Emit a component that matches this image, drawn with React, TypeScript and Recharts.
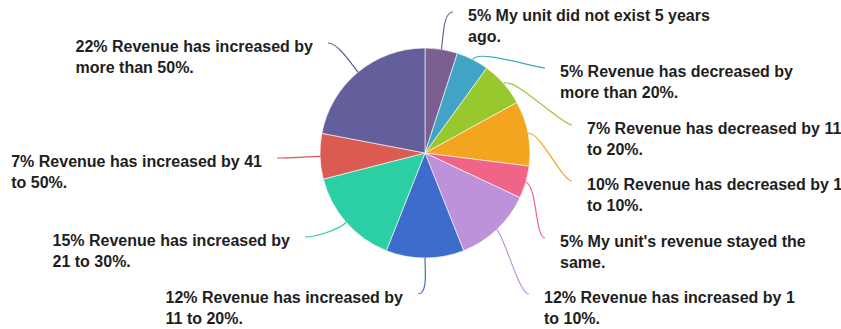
import React from "react";
import { PieChart, Pie, Cell } from "recharts";

const categories = [
  "My unit did not exist 5 years ago.",
  "Revenue has decreased by more than 20%.",
  "Revenue has decreased by 11 to 20%.",
  "Revenue has decreased by 1 to 10%.",
  "My unit's revenue stayed the same.",
  "Revenue has increased by 1 to 10%.",
  "Revenue has increased by 11 to 20%.",
  "Revenue has increased by 21 to 30%.",
  "Revenue has increased by 41 to 50%.",
  "Revenue has increased by more than 50%.",
];

const shares = [5, 5, 7, 10, 5, 12, 12, 15, 7, 22];

const colors = [
  "#7B5F91",
  "#41A4C6",
  "#97C82D",
  "#F4A51F",
  "#EF6487",
  "#BE91DB",
  "#3E6CCC",
  "#2CCFA4",
  "#DB5B52",
  "#635F9D",
];

// label anchor offsets (end of leader line) relative to the pie centre
const labelAnchors: [number, number][] = [
  [28, -141],
  [120, -85],
  [147, -28],
  [147, 28],
  [120, 85],
  [104, 141],
  [-7, 141],
  [-120, 84],
  [-148, 5],
  [-97, -110],
];

const data = categories.map((name, i) => ({ name, value: shares[i] }));

const FONT = "bold 16px 'Liberation Sans', Arial, Helvetica, sans-serif";
const WRAP = 256;
const LINE_H = 20.5;

let ctx: CanvasRenderingContext2D | null = null;
function measure(t: string): number {
  if (!ctx) {
    const c = document.createElement("canvas");
    ctx = c.getContext("2d");
  }
  if (!ctx) return t.length * 8.4;
  ctx.font = FONT;
  return ctx.measureText(t).width;
}

function wrap(text: string): string[] {
  const words = text.split(" ");
  const lines: string[] = [];
  let cur = "";
  for (const w of words) {
    const next = cur ? cur + " " + w : w;
    if (cur && measure(next) > WRAP) {
      lines.push(cur);
      cur = w;
    } else {
      cur = next;
    }
  }
  if (cur) lines.push(cur);
  return lines;
}

const RAD = Math.PI / 180;

function renderLabel(props: any) {
  const { cx, cy, midAngle, outerRadius, index } = props;
  const i = index as number;
  const color = colors[i % colors.length];
  const ex = cx + outerRadius * Math.cos(-midAngle * RAD);
  const ey = cy + outerRadius * Math.sin(-midAngle * RAD);
  const ux = Math.cos(-midAngle * RAD);
  const uy = Math.sin(-midAngle * RAD);
  const [dx, dy] = labelAnchors[i];
  const ax = cx + dx;
  const ay = cy + dy;
  const side = dx >= 0 ? 1 : -1;
  const p1x = ex + ux * 12;
  const p1y = ey + uy * 12;
  const p2x = ax - side * 10;
  const p2y = ay;
  const text = `${shares[i]}% ${categories[i]}`;
  const lines = wrap(text);
  const blockW = Math.max(...lines.map(measure));
  const tx = side > 0 ? ax + 15 : ax - 15 - blockW;
  const ty = ay + 9;
  return (
    <g key={`lab-${i}`}>
      <path
        d={`M${ex},${ey} C${p1x},${p1y} ${p2x},${p2y} ${ax},${ay}`}
        fill="none"
        stroke={color}
        strokeWidth={1.2}
      />
      <text
        x={tx}
        y={ty}
        fill="#1e1e1e"
        textAnchor="start"
        style={{ font: FONT }}
      >
        {lines.map((l, k) => (
          <tspan key={k} x={tx} y={ty + k * LINE_H}>
            {l}
          </tspan>
        ))}
      </text>
    </g>
  );
}

export default function App() {
  return (
    <div style={{ position: "absolute", left: 0, top: 0, width: 841, height: 329, background: "#fff" }}>
      <PieChart width={841} height={329} margin={{ top: 0, right: 0, bottom: 0, left: 0 }}>
        <Pie
          data={data}
          dataKey="value"
          nameKey="name"
          cx={425}
          cy={153}
          outerRadius={105}
          startAngle={90}
          endAngle={-270}
          stroke="#ffffff"
          strokeWidth={0.6}
          label={renderLabel}
          labelLine={false}
          isAnimationActive={false}
        >
          {data.map((d, i) => (
            <Cell key={d.name} fill={colors[i]} />
          ))}
        </Pie>
      </PieChart>
    </div>
  );
}
